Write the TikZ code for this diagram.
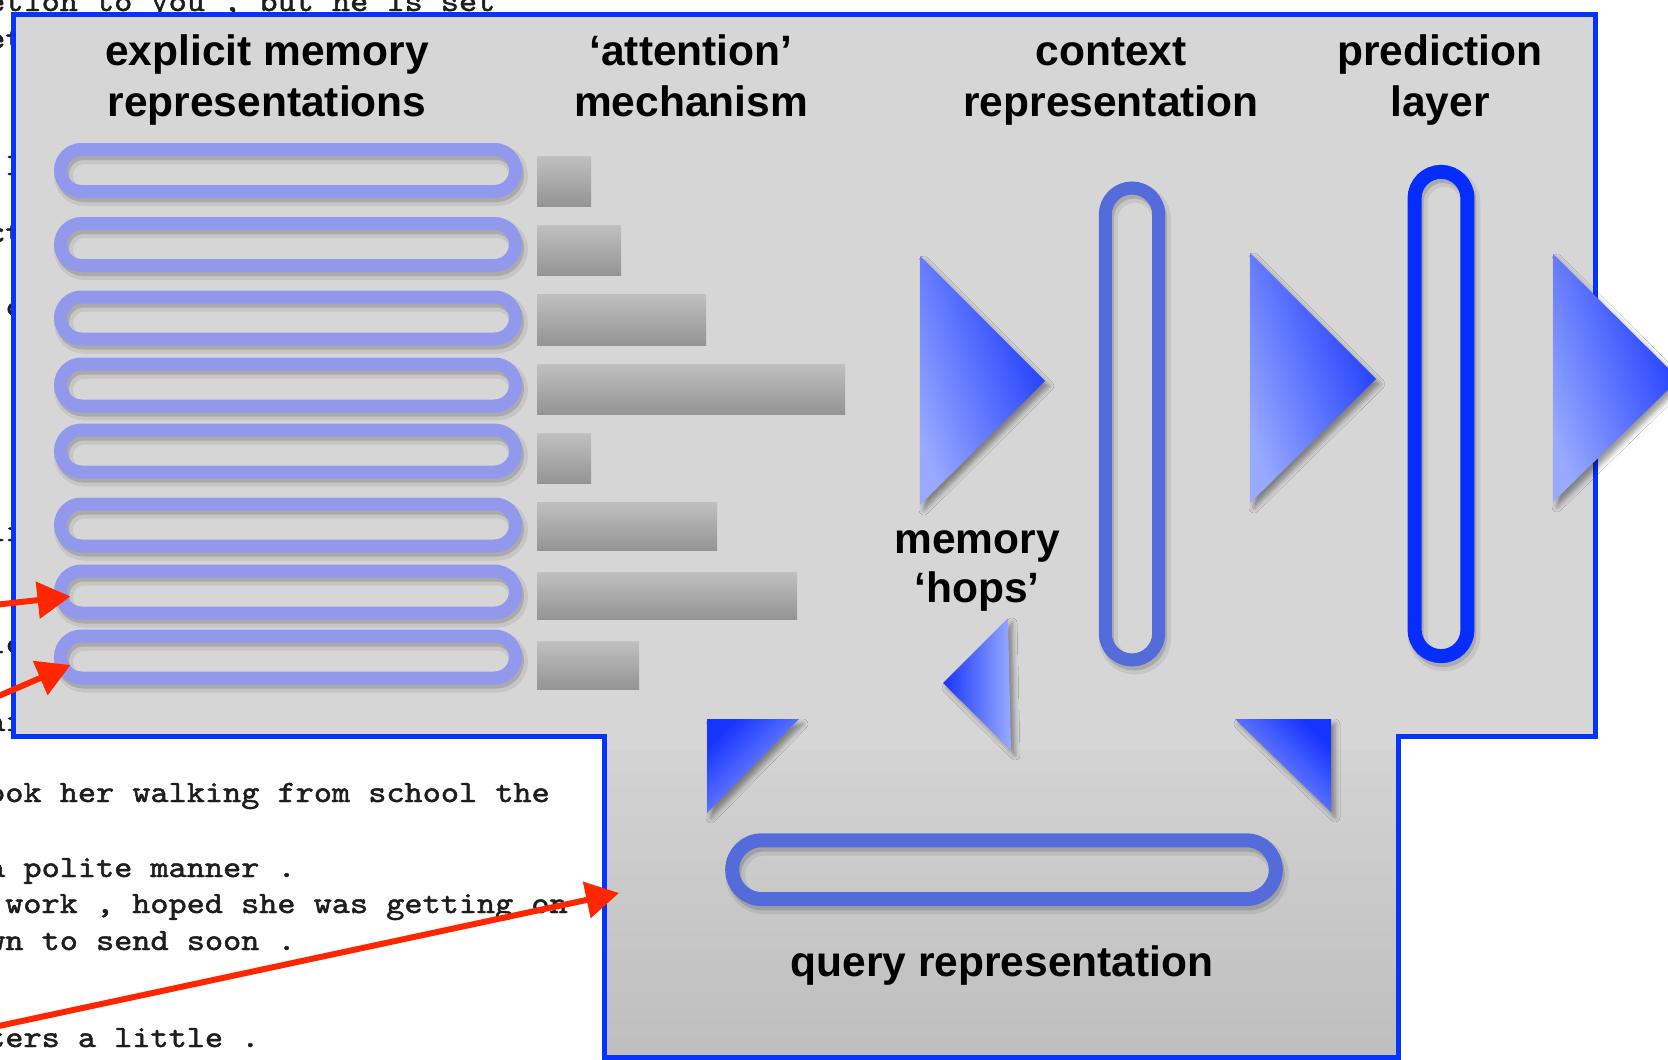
\documentclass[tikz,border=0pt]{standalone}
\usepackage{fontspec}
\setmainfont{Liberation Sans}
\newfontfamily\pagemono{lmmono10-regular.otf}[FakeBold=1.5]
\usetikzlibrary{arrows.meta,shadows.blur}
\definecolor{panelgray}{RGB}{214,214,214}
\definecolor{qtop}{RGB}{211,211,211}
\definecolor{qbot}{RGB}{190,190,190}
\definecolor{frameblue}{RGB}{5,51,255}
\definecolor{memblue}{RGB}{146,152,236}
\definecolor{ctxblue}{RGB}{84,108,218}
\definecolor{predblue}{RGB}{5,45,255}
\definecolor{tridark}{RGB}{22,52,255}
\definecolor{trilight}{RGB}{152,170,255}
\definecolor{barlight}{RGB}{192,192,192}
\definecolor{bardark}{RGB}{148,148,148}
\definecolor{arrowred}{RGB}{255,38,0}
\definecolor{textgray}{RGB}{30,30,30}
\newcommand\pagetext[1]{\scalebox{1.115}[1]{#1}}
\begin{document}
\begin{tikzpicture}[x=1pt,y=-1pt,
  heading/.style={font=\bfseries\fontsize{42.5}{51}\selectfont, anchor=base, inner sep=0pt},
  bgtext/.style={font=\pagemono\fontsize{31}{36}\selectfont, text=textgray, anchor=base west, inner sep=0pt},
  ring/.style={inner sep=0pt, outer sep=0pt},
  softshadow/.style={blur shadow={shadow xshift=4pt, shadow yshift=-5pt, shadow blur radius=5pt, shadow opacity=40}},
  bigtri/.style={softshadow, top color=tridark, bottom color=trilight, shading angle=-70},
  bar/.style={top color=barlight, bottom color=bardark},
  redarrow/.style={draw=arrowred, line width=6pt, -{Triangle[length=33pt,width=36pt]}}
]
\useasboundingbox (0,0) rectangle (1668,1060);
\clip (0,0) rectangle (1668,1060);
\fill[white] (0,0) rectangle (1668,1060);

% background page text
\node[bgtext] (t0) at (-13,11) {\pagetext{etion to you , but he is set}};
\node[bgtext] (f1) at (-13,48) {\pagetext{et}};
\node[bgtext] (f2) at (5,175) {\pagetext{I}};
\node[bgtext] (f3) at (-13,242) {\pagetext{ct}};
\node[bgtext] (f4) at (5,316) {\pagetext{c}};
\node[bgtext] (f5) at (-13,541) {\pagetext{li}};
\node[bgtext] (f6) at (-13,653) {\pagetext{ic}};
\node[bgtext] (f7) at (-13,731) {\pagetext{ai}};
\node[bgtext] (t1) at (-13,802) {\pagetext{ook her walking from school the}};
\node[bgtext] (t2) at (-13,877) {\pagetext{a polite manner .}};
\node[bgtext] (t3) at (5,913) {\pagetext{work , hoped she was getting on}};
\node[bgtext] (t4) at (-13,950) {\pagetext{wn to send soon .}};
\node[bgtext] (t5) at (-13,1047) {\pagetext{ters a little .}};

% panels
\fill[panelgray] (13,14) rectangle (1595,736);
\fill[panelgray] (604,736) rectangle (1398,750);
\shade[top color=qtop, bottom color=qbot] (604,750) rectangle (1398,1057);

% attention bars
\foreach \n/\yt/\yb/\xe in {1/156/206/591, 2/225/275/621, 3/294/345/706, 4/364/414/845, 5/433/483/591, 6/502/550/717, 7/572/619/797, 8/641/689/639} {
  \shade[bar] (537,\yt) rectangle (\xe,\yb);
}

% memory ovals
\foreach \n/\yy in {1/170.5, 2/244.5, 3/318, 4/385, 5/451, 6/525, 7/592, 8/657} {
  \node[ring, draw=black, draw opacity=0.07, line width=19pt, minimum width=455pt, minimum height=42pt, rounded corners=21pt] at (291,\yy+5) {};
  \node[ring, draw=black, draw opacity=0.14, line width=13pt, minimum width=455pt, minimum height=42pt, rounded corners=21pt] at (290,\yy+4) {};
  \node[ring, draw=memblue, line width=13pt, minimum width=455pt, minimum height=42pt, rounded corners=21pt] (m\n) at (288,\yy) {};
}

% context representation oval
\node[ring, draw=black, draw opacity=0.07, line width=19pt, minimum width=53.4pt, minimum height=472pt, rounded corners=26.7pt] at (1135,429) {};
\node[ring, draw=black, draw opacity=0.14, line width=13pt, minimum width=53.4pt, minimum height=472pt, rounded corners=26.7pt] at (1134,428) {};
\node[ring, draw=ctxblue, line width=13pt, minimum width=53.4pt, minimum height=472pt, rounded corners=26.7pt] (ctx) at (1132,424) {};

% prediction layer oval
\node[ring, draw=black, draw opacity=0.07, line width=20pt, minimum width=52.9pt, minimum height=484.3pt, rounded corners=26.4pt] at (1444,419) {};
\node[ring, draw=black, draw opacity=0.14, line width=14pt, minimum width=52.9pt, minimum height=484.3pt, rounded corners=26.4pt] at (1443,418) {};
\node[ring, draw=predblue, line width=14pt, minimum width=52.9pt, minimum height=484.3pt, rounded corners=26.4pt] (pred) at (1441,414) {};

% query oval
\node[ring, draw=black, draw opacity=0.07, line width=20pt, minimum width=543.6pt, minimum height=58.7pt, rounded corners=29.3pt] at (1007,875) {};
\node[ring, draw=black, draw opacity=0.14, line width=14pt, minimum width=543.6pt, minimum height=58.7pt, rounded corners=29.3pt] at (1006,874) {};
\node[ring, draw=ctxblue, line width=14pt, minimum width=543.6pt, minimum height=58.7pt, rounded corners=29.3pt] (query) at (1004,869.7) {};

% big triangles
\shade[bigtri] (920,256) -- (1045,381) -- (920,505) -- cycle;
\shade[bigtri] (1250,253) -- (1376,379) -- (1250,503) -- cycle;

% small triangles
\shade[softshadow, top color=tridark, bottom color=trilight, shading angle=45] (707,719) -- (799,719) -- (707,813) -- cycle;
\shade[softshadow, top color=tridark, bottom color=trilight, shading angle=90] (1008,618) -- (943,683) -- (1011,750) -- cycle;
\shade[softshadow, top color=tridark, bottom color=trilight, shading angle=-45] (1235,719) -- (1331,719) -- (1331,812) -- cycle;

% labels
\node[heading] (h1a) at (267,65) {explicit memory};
\node[heading] (h1b) at (267,116.7) {representations};
\node[heading] (h2a) at (691,65) {`attention'};
\node[heading] (h2b) at (691,116.7) {mechanism};
\node[heading] (h3a) at (1111,65) {context};
\node[heading] (h3b) at (1111,116.7) {representation};
\node[heading] (h4a) at (1440,65) {prediction};
\node[heading] (h4b) at (1440,116.7) {layer};
\node[heading] (hopa) at (977,553) {memory};
\node[heading] (hopb) at (977,602.7) {`hops'};
\node[heading] (qlab) at (1002,976.5) {query representation};

% outline
\draw[frameblue, line width=5pt, line join=miter] (13,14) -- (1595,14) -- (1595,736) -- (1398,736) -- (1398,1057) -- (604,1057) -- (604,736) -- (13,736) -- cycle;

% output triangle over the frame
\shade[bigtri] (1553,254) -- (1679,379) -- (1553,502) -- cycle;

% red arrows
\coordinate (r1) at (-6,605);
\coordinate (r2) at (-6,698);
\coordinate (r3) at (-6,1027);
\coordinate (qin) at (619,893);
\draw[redarrow] (r1) -- ([xshift=10pt,yshift=-4.5pt]m7.west);
\draw[redarrow] (r2) -- ([xshift=10pt,yshift=-8pt]m8.west);
\draw[redarrow] (r3) -- (qin);
\end{tikzpicture}
\end{document}
